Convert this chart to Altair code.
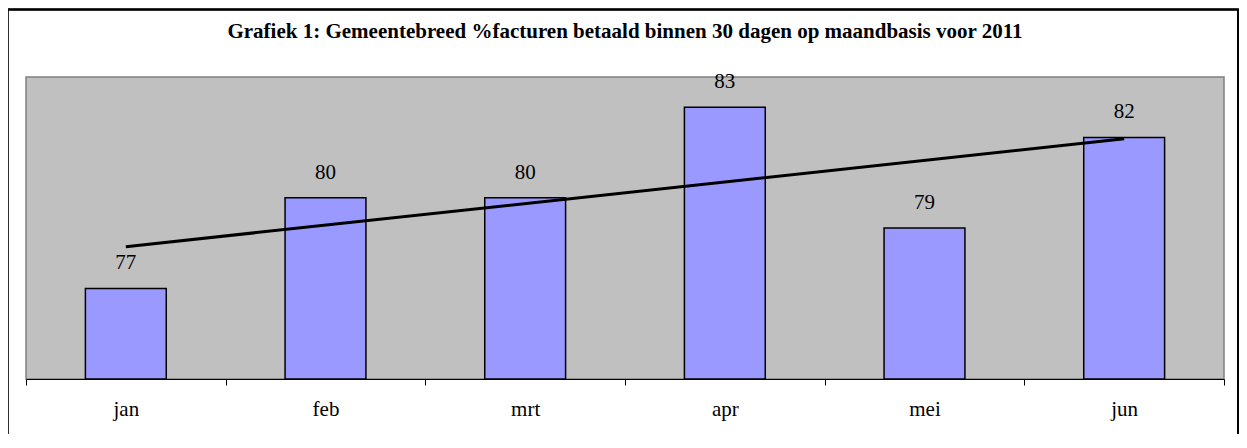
import altair as alt
import pandas as pd

months = ["jan", "feb", "mrt", "apr", "mei", "jun"]
values = [77, 80, 80, 83, 79, 82]
index = [1, 2, 3, 4, 5, 6]
title_text = "Grafiek 1: Gemeentebreed %facturen betaald binnen 30 dagen op maandbasis voor 2011"

df = pd.DataFrame({"month": months, "value": values, "idx": index})

FONT = "Liberation Serif"
W, H = 1198, 302

xband = alt.X(
    "month:N",
    sort=months,
    scale=alt.Scale(paddingInner=0, paddingOuter=0),
    axis=alt.Axis(
        title=None, labelAngle=0, tickBand="extent", tickSize=6,
        tickColor="black", domainColor="black", domainWidth=1,
        labelFont=FONT, labelFontSize=21, labelColor="black",
        labelPadding=30, labelBaseline="alphabetic", grid=False,
    ),
)
yscale = alt.Scale(domain=[74, 84], zero=False, nice=False)

base = alt.Chart(df)

bars = base.mark_bar(
    width=alt.RelativeBandSize(0.405), color="#9999FF", stroke="black", strokeWidth=1.5
).encode(
    x=xband,
    y=alt.Y("value:Q", scale=yscale, axis=None),
    y2=alt.datum(74),
)

labels = base.mark_text(
    dy=-19, baseline="alphabetic", font=FONT, fontSize=21, color="black"
).encode(
    x=alt.X("month:N", sort=months),
    y=alt.Y("value:Q", scale=yscale),
    text=alt.Text("value:Q"),
)

trend = base.transform_regression("idx", "value").mark_line(
    color="black", strokeWidth=3
).encode(
    x=alt.X("idx:Q", scale=alt.Scale(domain=[0.5, 6.5], nice=False, zero=False), axis=None),
    y=alt.Y("value:Q", scale=yscale),
)

frame = alt.Chart(df).mark_rect(
    filled=False, stroke="black", strokeWidth=1.5, clip=False
).encode(
    x=alt.value(-18.5), x2=alt.value(W + 14), y=alt.value(-67.5), y2=alt.value(H + 100)
)

title = alt.Chart(df).transform_filter(alt.datum.idx == 1).mark_text(
    font=FONT, fontSize=21, fontWeight="bold", color="black",
    align="center", baseline="alphabetic", clip=False
).encode(
    x=alt.value(W / 2), y=alt.value(-39), text=alt.value(title_text)
)

chart = alt.layer(alt.layer(bars, labels), trend, frame, title).resolve_scale(x="independent").properties(
    width=W,
    height=H,
    autosize=alt.AutoSizeParams(type="none"),
    padding={"left": 18, "top": 69, "right": 15, "bottom": 55},
).configure_view(
    fill="#C0C0C0", stroke="#808080", strokeWidth=1.5
)

chart.save("out.html", embed_options={"renderer": "svg", "actions": False})
